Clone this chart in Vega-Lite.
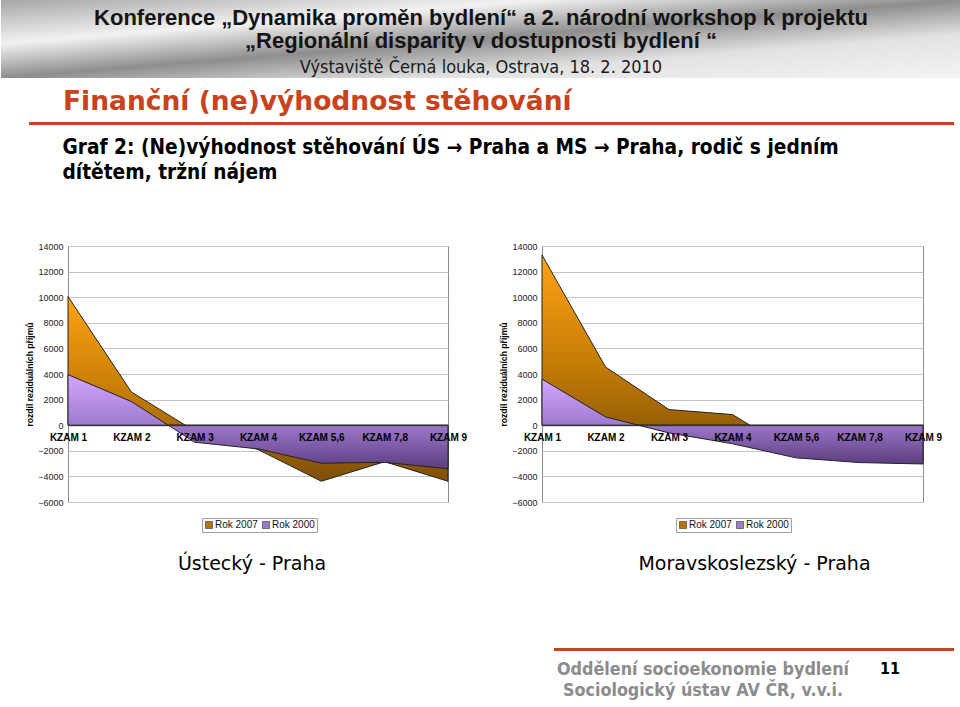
{
  "$schema": "https://vega.github.io/schema/vega-lite/v6.json",
  "background": "white",
  "padding": 0,
  "data": {"values": [
    {"reg": "US", "kzam": "KZAM 1", "rok": "Rok 2007", "v": 10050},
    {"reg": "US", "kzam": "KZAM 2", "rok": "Rok 2007", "v": 2600},
    {"reg": "US", "kzam": "KZAM 3", "rok": "Rok 2007", "v": -450},
    {"reg": "US", "kzam": "KZAM 4", "rok": "Rok 2007", "v": -1900},
    {"reg": "US", "kzam": "KZAM 5,6", "rok": "Rok 2007", "v": -4380},
    {"reg": "US", "kzam": "KZAM 7,8", "rok": "Rok 2007", "v": -2850},
    {"reg": "US", "kzam": "KZAM 9", "rok": "Rok 2007", "v": -4380},
    {"reg": "US", "kzam": "KZAM 1", "rok": "Rok 2000", "v": 3950},
    {"reg": "US", "kzam": "KZAM 2", "rok": "Rok 2000", "v": 1850},
    {"reg": "US", "kzam": "KZAM 3", "rok": "Rok 2000", "v": -1330},
    {"reg": "US", "kzam": "KZAM 4", "rok": "Rok 2000", "v": -1850},
    {"reg": "US", "kzam": "KZAM 5,6", "rok": "Rok 2000", "v": -2970},
    {"reg": "US", "kzam": "KZAM 7,8", "rok": "Rok 2000", "v": -2900},
    {"reg": "US", "kzam": "KZAM 9", "rok": "Rok 2000", "v": -3400},
    {"reg": "MS", "kzam": "KZAM 1", "rok": "Rok 2007", "v": 13300},
    {"reg": "MS", "kzam": "KZAM 2", "rok": "Rok 2007", "v": 4550},
    {"reg": "MS", "kzam": "KZAM 3", "rok": "Rok 2007", "v": 1220},
    {"reg": "MS", "kzam": "KZAM 4", "rok": "Rok 2007", "v": 830},
    {"reg": "MS", "kzam": "KZAM 5,6", "rok": "Rok 2007", "v": -2200},
    {"reg": "MS", "kzam": "KZAM 7,8", "rok": "Rok 2007", "v": -2700},
    {"reg": "MS", "kzam": "KZAM 9", "rok": "Rok 2007", "v": -2800},
    {"reg": "MS", "kzam": "KZAM 1", "rok": "Rok 2000", "v": 3600},
    {"reg": "MS", "kzam": "KZAM 2", "rok": "Rok 2000", "v": 650},
    {"reg": "MS", "kzam": "KZAM 3", "rok": "Rok 2000", "v": -600},
    {"reg": "MS", "kzam": "KZAM 4", "rok": "Rok 2000", "v": -1450},
    {"reg": "MS", "kzam": "KZAM 5,6", "rok": "Rok 2000", "v": -2550},
    {"reg": "MS", "kzam": "KZAM 7,8", "rok": "Rok 2000", "v": -2920},
    {"reg": "MS", "kzam": "KZAM 9", "rok": "Rok 2000", "v": -3030}
  ]},
  "vconcat": [
    {
      "data": {"values": [{}]},
      "width": 960,
      "height": 78,
      "view": {"stroke": null},
      "mark": {"type": "rect", "fill": {"gradient": "linear", "x1": 0, "y1": 0, "x2": 1, "y2": 1, "stops": [
        {"offset": 0, "color": "#a6a6a6"},
        {"offset": 0.28, "color": "#f2f2f2"},
        {"offset": 0.5, "color": "#8e8e8e"},
        {"offset": 0.72, "color": "#e2e2e2"},
        {"offset": 1, "color": "#f4f4f4"}
      ]}},
      "encoding": {},
      "title": {
        "text": ["Konference „Dynamika proměn bydlení“ a 2. národní workshop k projektu", "„Regionální disparity v dostupnosti bydlení “"],
        "subtitle": "Výstaviště Černá louka, Ostrava, 18. 2. 2010",
        "anchor": "middle", "frame": "group", "orient": "top", "offset": -78,
        "font": "Liberation Sans", "fontSize": 22, "fontWeight": "bold", "color": "#141414", "lineHeight": 23,
        "subtitleFont": "DejaVu Sans Condensed", "subtitleFontSize": 18, "subtitleColor": "#1a1a1a", "subtitlePadding": 6
      }
    },
    {
      "hconcat": [
        {"data": {"values": []}, "width": 27, "height": 3, "view": {"stroke": "transparent"}, "mark": "rect", "encoding": {}},
        {
          "data": {"values": [{}]},
          "width": 925, "height": 3,
          "view": {"stroke": null},
          "mark": {"type": "rect", "fill": "#C8421C"},
          "encoding": {},
          "title": {"text": "Finanční (ne)výhodnost stěhování", "anchor": "start", "frame": "group", "dx": 34, "offset": 7,
            "font": "DejaVu Sans", "fontWeight": "bold", "fontSize": 26.5, "color": "#C8421C"}
        }
      ],
      "spacing": 0
    },
    {
      "hconcat": [
        {"data": {"values": []}, "width": 23, "height": 3, "view": {"stroke": "transparent"}, "mark": "rect", "encoding": {}},
        {
          "width": 380, "height": 256,
          "view": {"stroke": "#8c8c8c"},
          "transform": [{"filter": "datum.reg === 'US'"}],
          "title": {"text": "Ústecký - Praha", "orient": "bottom", "anchor": "middle", "frame": "group", "dx": -6, "offset": 22,
            "font": "DejaVu Sans", "fontSize": 19, "fontWeight": "normal", "color": "#000"},
          "encoding": {
            "x": {"field": "kzam", "type": "ordinal", "scale": {"type": "point", "padding": 0, "domain": ["KZAM 1", "KZAM 2", "KZAM 3", "KZAM 4", "KZAM 5,6", "KZAM 7,8", "KZAM 9"]},
              "axis": {"orient": "bottom", "offset": -76.8, "title": null, "labelAngle": 0, "labelFont": "Liberation Sans", "labelFontWeight": "bold", "labelFontSize": 10, "labelColor": "#000", "labelPadding": 7, "ticks": false, "domain": true, "domainColor": "#333", "grid": false, "zindex": 1}},
            "y": {"field": "v", "type": "quantitative", "stack": null, "scale": {"domain": [-6000, 14000], "nice": false},
              "axis": {"title": "rozdíl reziduálních příjmů", "format": "d", "titleFont": "Liberation Sans", "titleFontSize": 8.6, "titleFontWeight": "bold", "titlePadding": 3, "titleColor": "#000",
                "labelFont": "Liberation Sans", "labelFontSize": 9, "labelColor": "#222", "labelPadding": 5, "ticks": false, "domain": false, "grid": true, "gridColor": "#c4c4c4", "tickCount": 10}}
          },
          "layer": [
            {"transform": [{"filter": "datum.rok === 'Rok 2007'"}], "mark": {"type": "area", "stroke": "#222", "strokeWidth": 1, "opacity": 1,
              "fill": {"gradient": "linear", "x1": 0, "y1": 0, "x2": 0, "y2": 1, "stops": [{"offset": 0, "color": "#FFA314"}, {"offset": 0.55, "color": "#C27A06"}, {"offset": 1, "color": "#7E4F08"}]}}},
            {"transform": [{"filter": "datum.rok === 'Rok 2000'"}], "mark": {"type": "area", "stroke": "#222", "strokeWidth": 1, "opacity": 1,
              "fill": {"gradient": "linear", "x1": 0, "y1": 0, "x2": 0, "y2": 1, "stops": [{"offset": 0, "color": "#D4A6FF"}, {"offset": 0.5, "color": "#A27DD3"}, {"offset": 1, "color": "#5C3D7E"}]}}},
            {"mark": {"type": "square", "filled": true, "size": 0, "opacity": 1},
              "encoding": {"color": {"field": "rok", "type": "nominal",
                "scale": {"domain": ["Rok 2007", "Rok 2000"], "range": ["#B8740A", "#9C7CC8"]},
                "legend": {"orient": "none", "legendX": 134, "legendY": 272, "direction": "horizontal", "title": null, "strokeColor": "#a0a0a0", "fillColor": "white", "padding": 2,
                  "symbolType": "square", "symbolSize": 49, "symbolStrokeColor": "#333", "symbolStrokeWidth": 0.6, "symbolOpacity": 1,
                  "labelFont": "Liberation Sans", "labelFontSize": 10, "labelColor": "#111", "columnPadding": 3, "labelOffset": 1}}}}
          ]
        },
        {"data": {"values": []}, "width": 29, "height": 3, "view": {"stroke": "transparent"}, "mark": "rect", "encoding": {}},
        {
          "width": 381, "height": 256,
          "view": {"stroke": "#8c8c8c"},
          "transform": [{"filter": "datum.reg === 'MS'"}],
          "title": {"text": "Moravskoslezský - Praha", "orient": "bottom", "anchor": "middle", "frame": "group", "dx": 22, "offset": 22,
            "font": "DejaVu Sans", "fontSize": 19, "fontWeight": "normal", "color": "#000"},
          "encoding": {
            "x": {"field": "kzam", "type": "ordinal", "scale": {"type": "point", "padding": 0, "domain": ["KZAM 1", "KZAM 2", "KZAM 3", "KZAM 4", "KZAM 5,6", "KZAM 7,8", "KZAM 9"]},
              "axis": {"orient": "bottom", "offset": -76.8, "title": null, "labelAngle": 0, "labelFont": "Liberation Sans", "labelFontWeight": "bold", "labelFontSize": 10, "labelColor": "#000", "labelPadding": 7, "ticks": false, "domain": true, "domainColor": "#333", "grid": false, "zindex": 1}},
            "y": {"field": "v", "type": "quantitative", "stack": null, "scale": {"domain": [-6000, 14000], "nice": false},
              "axis": {"title": "rozdíl reziduálních příjmů", "format": "d", "titleFont": "Liberation Sans", "titleFontSize": 8.6, "titleFontWeight": "bold", "titlePadding": 3, "titleColor": "#000",
                "labelFont": "Liberation Sans", "labelFontSize": 9, "labelColor": "#222", "labelPadding": 5, "ticks": false, "domain": false, "grid": true, "gridColor": "#c4c4c4", "tickCount": 10}}
          },
          "layer": [
            {"transform": [{"filter": "datum.rok === 'Rok 2007'"}], "mark": {"type": "area", "stroke": "#222", "strokeWidth": 1, "opacity": 1,
              "fill": {"gradient": "linear", "x1": 0, "y1": 0, "x2": 0, "y2": 1, "stops": [{"offset": 0, "color": "#FFA314"}, {"offset": 0.55, "color": "#C27A06"}, {"offset": 1, "color": "#7E4F08"}]}}},
            {"transform": [{"filter": "datum.rok === 'Rok 2000'"}], "mark": {"type": "area", "stroke": "#222", "strokeWidth": 1, "opacity": 1,
              "fill": {"gradient": "linear", "x1": 0, "y1": 0, "x2": 0, "y2": 1, "stops": [{"offset": 0, "color": "#D4A6FF"}, {"offset": 0.5, "color": "#A27DD3"}, {"offset": 1, "color": "#5C3D7E"}]}}},
            {"mark": {"type": "square", "filled": true, "size": 0, "opacity": 1},
              "encoding": {"color": {"field": "rok", "type": "nominal",
                "scale": {"domain": ["Rok 2007", "Rok 2000"], "range": ["#B8740A", "#9C7CC8"]},
                "legend": {"orient": "none", "legendX": 134, "legendY": 272, "direction": "horizontal", "title": null, "strokeColor": "#a0a0a0", "fillColor": "white", "padding": 2,
                  "symbolType": "square", "symbolSize": 49, "symbolStrokeColor": "#333", "symbolStrokeWidth": 0.6, "symbolOpacity": 1,
                  "labelFont": "Liberation Sans", "labelFontSize": 10, "labelColor": "#111", "columnPadding": 3, "labelOffset": 1}}}}
          ]
        }
      ],
      "spacing": 0,
      "resolve": {"scale": {"color": "independent"}, "legend": {"color": "independent"}},
      "title": {"text": ["Graf 2: (Ne)výhodnost stěhování ÚS → Praha a MS → Praha, rodič s jedním", "dítětem, tržní nájem"],
        "anchor": "start", "dx": 62, "offset": 58, "font": "DejaVu Sans Condensed", "fontWeight": "bold", "fontSize": 20.7, "lineHeight": 25, "color": "#000"}
    },
    {"data": {"values": []}, "width": 1, "height": 51, "view": {"stroke": "transparent"}, "mark": "rect", "encoding": {}},
    {
      "hconcat": [
        {"data": {"values": []}, "width": 552, "height": 3, "view": {"stroke": "transparent"}, "mark": "rect", "encoding": {}},
        {
          "data": {"values": [{}]}, "width": 315, "height": 3, "view": {"stroke": null},
          "mark": {"type": "rect", "fill": "#C8421C"}, "encoding": {},
          "title": {"text": ["Oddělení socioekonomie bydlení", "Sociologický ústav AV ČR, v.v.i."], "orient": "bottom", "anchor": "middle", "frame": "group", "dx": -8.5, "offset": 10,
            "font": "DejaVu Sans Condensed", "fontWeight": "bold", "fontSize": 17.8, "lineHeight": 21, "color": "#8c8c8c"}
        },
        {
          "data": {"values": [{}]}, "width": 85, "height": 3, "view": {"stroke": null},
          "mark": {"type": "rect", "fill": "#C8421C"}, "encoding": {},
          "title": {"text": "11", "orient": "bottom", "anchor": "start", "frame": "group", "dx": 11, "offset": 10,
            "font": "DejaVu Sans Condensed", "fontWeight": "bold", "fontSize": 16, "color": "#000"}
        }
      ],
      "spacing": 0
    }
  ],
  "spacing": 10
}
